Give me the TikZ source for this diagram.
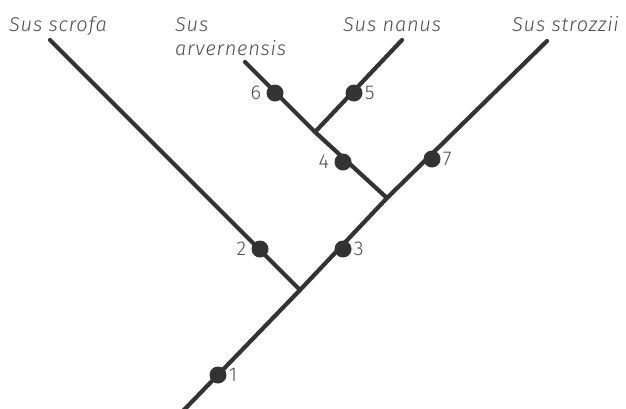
\documentclass[tikz,border=0pt]{standalone}
\usepackage{fontspec}
\setmainfont{Fira Sans Light}[LetterSpace=4]
\begin{document}
\begin{tikzpicture}[x=1pt,y=-1pt,
  branch/.style={draw=black!80, line width=4.2pt, line cap=round},
  apodot/.style={circle, fill=black!80, inner sep=0pt, minimum size=17pt,
    label distance=1pt},
  lft/.style={label={[label distance=4pt]left:#1}},
  rgt/.style={label={[label distance=1pt]right:#1}},
  taxon/.style={text=black!70, font=\fontsize{20}{24}\selectfont\itshape,
    inner sep=0pt, align=left},
  every label/.style={text=black!70, font=\fontsize{20}{24}\selectfont,
    inner sep=1pt}]
  \useasboundingbox (0,0) rectangle (626,408);
  \clip (0,0) rectangle (626,408);

  % branching points and tips
  \coordinate (root) at (182,412);
  \coordinate (nA) at (300,290);
  \coordinate (nB) at (387,198);
  \coordinate (nC) at (315,132);
  \coordinate (tScrofa) at (50,40);
  \coordinate (tArv) at (245,62);
  \coordinate (tNanus) at (402,40);
  \coordinate (tStrozzii) at (547,41);

  % tree
  \draw[branch] (root) -- (nA) -- (nB) -- (tStrozzii);
  \draw[branch] (nA) -- (tScrofa);
  \draw[branch] (nB) -- (nC) -- (tArv);
  \draw[branch] (nC) -- (tNanus);

  % numbered characters on the branches
  \node[apodot, rgt=1] (c1) at (218,375) {};
  \node[apodot, lft=2] (c2) at (260,249) {};
  \node[apodot, rgt=3] (c3) at (343,249) {};
  \node[apodot, lft=4] (c4) at (343,162) {};
  \node[apodot, rgt=5] (c5) at (354,93) {};
  \node[apodot, lft=6] (c6) at (275,93) {};
  \node[apodot, rgt=7] (c7) at (432,159) {};

  % taxon names
  \node[taxon, anchor=base west] (lScrofa) at (9,31) {Sus scrofa};
  \node[taxon, anchor=base west] (lSus) at (175,31) {Sus};
  \node[taxon, anchor=base west] (lArv) at (175,55) {arvernensis};
  \node[taxon, anchor=base west] (lNanus) at (343,31) {Sus nanus};
  \node[taxon, anchor=base west] (lStrozzii) at (512,31) {Sus strozzii};
\end{tikzpicture}
\end{document}
